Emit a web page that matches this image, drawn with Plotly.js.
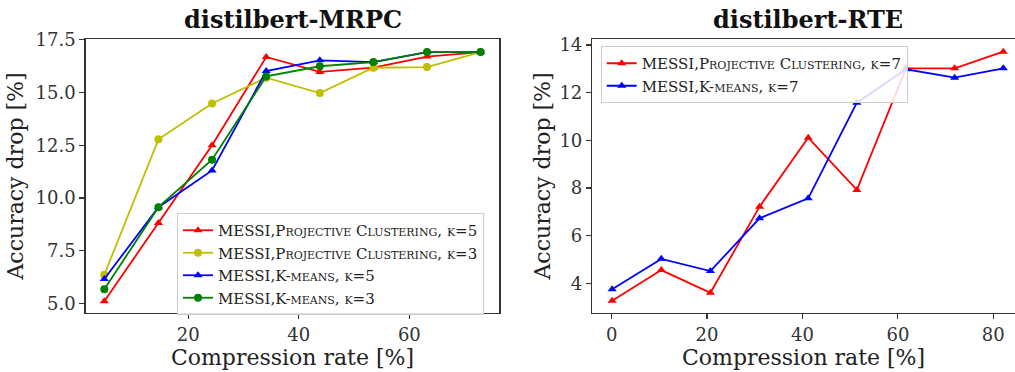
<!DOCTYPE html>
<html>
<head>
<meta charset="utf-8">
<script src="https://cdn.plot.ly/plotly-3.0.1.min.js"></script>
<style>html,body{margin:0;padding:0;background:#fff;}</style>
</head>
<body>
<div id="chart" style="width:1015px;height:372px;"></div>
<script>
// ---- data: distilbert-MRPC ----
const mrpcRate = [4.8, 14.6, 24.3, 34.1, 43.8, 53.5, 63.2, 72.9];
const mrpcPcK5 = [5.12, 8.82, 12.5, 16.68, 15.97, 16.17, 16.7, 16.91];
const mrpcPcK3 = [6.37, 12.78, 14.48, 15.7, 14.97, 16.17, 16.2, 16.91];
const mrpcKmK5 = [6.17, 9.57, 11.31, 16.01, 16.52, 16.44, 16.91, 16.91];
const mrpcKmK3 = [5.68, 9.57, 11.82, 15.76, 16.24, 16.44, 16.91, 16.91];
// ---- data: distilbert-RTE ----
const rteRate = [0.1, 10.4, 20.7, 31.0, 41.2, 51.4, 61.7, 71.9, 82.1];
const rtePcK7 = [3.27, 4.56, 3.61, 7.22, 10.11, 7.92, 13.02, 13.02, 13.72];
const rteKmK7 = [3.76, 5.03, 4.52, 6.73, 7.57, 11.58, 12.98, 12.63, 13.02];
// ---- labels ----
const titles = ['distilbert-MRPC', 'distilbert-RTE'];
const xLabel = 'Compression rate [%]';
const yLabel = 'Accuracy drop [%]';
const names = {
  pc5: 'MESSI,Projective Clustering, κ=5',
  pc3: 'MESSI,Projective Clustering, κ=3',
  km5: 'MESSI,K-means, κ=5',
  km3: 'MESSI,K-means, κ=3',
  pc7: 'MESSI,Projective Clustering, κ=7',
  km7: 'MESSI,K-means, κ=7'
};
const mrpcXTicks = [20, 40, 60];
const mrpcYTicks = [5, 7.5, 10, 12.5, 15, 17.5];
const rteXTicks = [0, 20, 40, 60, 80];
const rteYTicks = [4, 6, 8, 10, 12, 14];

const RED = '#ff0000', YEL = '#bfbf00', BLU = '#0000ff', GRN = '#008000';
const serif = 'DejaVu Serif, Liberation Serif, serif';

function tr(x, y, name, color, sym, xa, ya, leg) {
  return {
    x: x, y: y, name: name, type: 'scatter', mode: 'lines+markers',
    line: {color: color, width: 1.8},
    marker: {color: color, symbol: sym, size: 8},
    xaxis: xa, yaxis: ya, legend: leg
  };
}

const data = [
  tr(mrpcRate, mrpcPcK5, names.pc5, RED, 'triangle-up', 'x', 'y', 'legend'),
  tr(mrpcRate, mrpcPcK3, names.pc3, YEL, 'circle', 'x', 'y', 'legend'),
  tr(mrpcRate, mrpcKmK5, names.km5, BLU, 'triangle-up', 'x', 'y', 'legend'),
  tr(mrpcRate, mrpcKmK3, names.km3, GRN, 'circle', 'x', 'y', 'legend'),
  tr(rteRate, rtePcK7, names.pc7, RED, 'triangle-up', 'x2', 'y2', 'legend2'),
  tr(rteRate, rteKmK7, names.km7, BLU, 'triangle-up', 'x2', 'y2', 'legend2')
];

const W = 1015, H = 372;
const yDom = [1 - 313 / H, 1 - 39 / H];
const axCommon = {
  showgrid: false, zeroline: false, showline: true, linecolor: '#333', linewidth: 1.2,
  ticks: 'outside', ticklen: 5, tickcolor: '#333', tickwidth: 1.2,
  tickfont: {family: serif, size: 18, color: '#333'}
};
const legCommon = {
  xanchor: 'left', yanchor: 'top', bgcolor: 'rgba(255,255,255,0.85)',
  bordercolor: '#cccccc', borderwidth: 1, itemwidth: 30,
  font: {family: serif, size: 15, variant: 'small-caps', color: '#222'}
};

const layout = {
  width: W, height: H,
  margin: {l: 0, r: 0, t: 0, b: 0},
  paper_bgcolor: '#fff', plot_bgcolor: '#fff',
  showlegend: true,
  xaxis: Object.assign({}, axCommon, {
    domain: [85.5 / W, 499.4 / W], range: [1.4, 76.3], tickvals: mrpcXTicks, mirror: true, anchor: 'y',
    title: {text: xLabel, font: {family: serif, size: 22, color: '#222'}, standoff: 0}
  }),
  yaxis: Object.assign({}, axCommon, {
    domain: yDom, range: [4.56, 17.53], tickvals: mrpcYTicks, tickformat: '.1f', mirror: true, anchor: 'x',
    title: {text: yLabel, font: {family: serif, size: 22, color: '#222'}, standoff: 6}
  }),
  xaxis2: Object.assign({}, axCommon, {
    domain: [592.1 / W, 1], range: [-4.1, 84.55], tickvals: rteXTicks, mirror: true, anchor: 'y2',
    title: {text: xLabel, font: {family: serif, size: 22, color: '#222'}, standoff: 0}
  }),
  yaxis2: Object.assign({}, axCommon, {
    domain: yDom, range: [2.76, 14.25], tickvals: rteYTicks, mirror: false, anchor: 'x2',
    title: {text: yLabel, font: {family: serif, size: 22, color: '#222'}, standoff: 2}
  }),
  legend: Object.assign({}, legCommon, {x: 177 / W, y: 1 - 213 / H}),
  legend2: Object.assign({}, legCommon, {x: 600.7 / W, y: 1 - 46 / H}),
  annotations: [
    {text: '<b>' + titles[0] + '</b>', xref: 'paper', yref: 'paper', x: 292.5 / W, y: 1 - 20 / H,
     xanchor: 'center', yanchor: 'middle', showarrow: false, font: {family: serif, size: 24, color: '#111'}},
    {text: '<b>' + titles[1] + '</b>', xref: 'paper', yref: 'paper', x: 807.5 / W, y: 1 - 20 / H,
     xanchor: 'center', yanchor: 'middle', showarrow: false, font: {family: serif, size: 24, color: '#111'}}
  ]
};

Plotly.newPlot('chart', data, layout, {displayModeBar: false, staticPlot: true});
</script>
</body>
</html>
